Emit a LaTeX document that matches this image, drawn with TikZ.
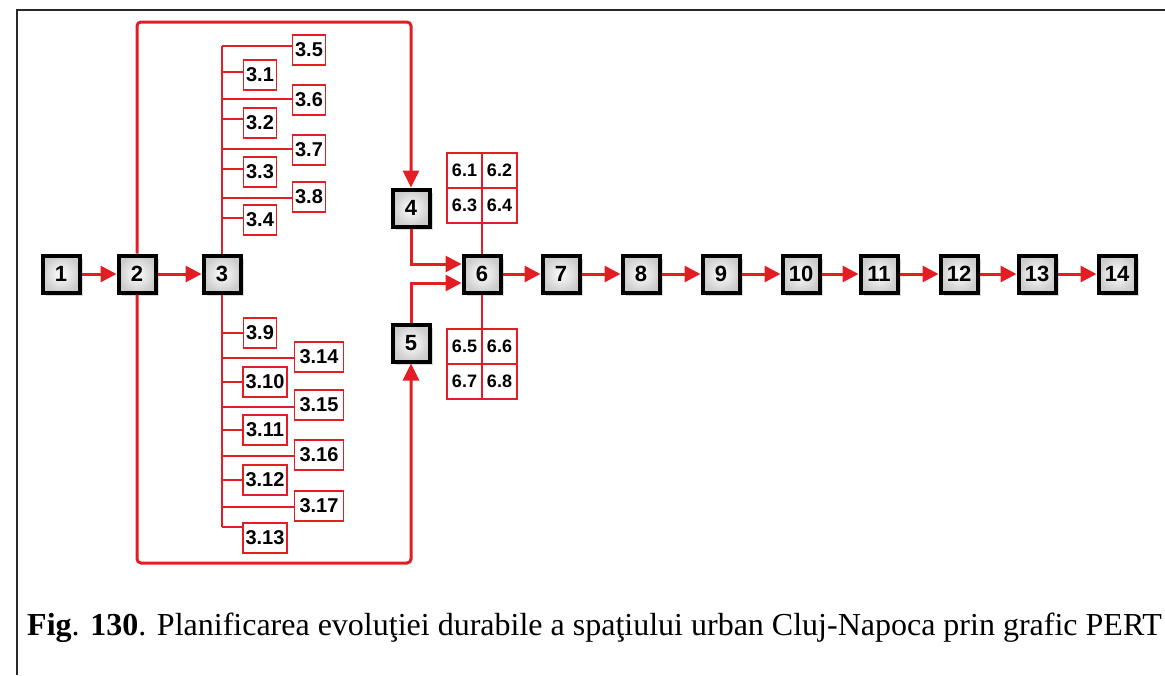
\documentclass[tikz,border=0pt]{standalone}
\usepackage{fontspec}
\setmainfont{Liberation Serif}
\newfontfamily\numfont{Liberation Sans}
\usetikzlibrary{arrows.meta,shadows}
\definecolor{pertred}{RGB}{226,30,36}
\definecolor{framegray}{RGB}{40,40,40}
\begin{document}
\begin{tikzpicture}[x=1pt,y=-1pt,
  mainbox/.style={draw=black, line width=4pt, minimum size=37pt, inner sep=0pt,
    shading=radial, inner color=white, outer color=gray!40,
    drop shadow={shadow xshift=3.5pt, shadow yshift=-3.5pt, opacity=0.3},
    font=\numfont\bfseries\fontsize{22}{22}\selectfont},
  subbox/.style={draw=pertred, line width=1.8pt, fill=white, minimum height=30pt, inner sep=0pt,
    font=\numfont\bfseries\fontsize{20}{20}\selectfont},
  cell/.style={draw=pertred, line width=1.8pt, fill=white, minimum size=35pt, inner sep=0pt, outer sep=0pt,
    font=\numfont\bfseries\fontsize{18}{18}\selectfont},
  arr/.style={draw=pertred, line width=3pt, -{Triangle[length=16pt,width=16pt]}},
  loop/.style={draw=pertred, line width=3pt, rounded corners=4pt, -{Triangle[length=17pt,width=16pt]}},
  branch/.style={draw=pertred, line width=1.8pt}
]
\useasboundingbox (0,0) rectangle (1165,675);
% frame
\draw[framegray, line width=2pt] (1165,10) -- (17,10) -- (17,675);

% main nodes
\foreach \n/\x in {1/61,2/137,3/222,6/482,7/561,8/641,9/721,10/801,11/879,12/959,13/1037,14/1117}
  \node[mainbox] (n\n) at (\x,274) {\n};
\node[mainbox] (n4) at (411,208) {4};
\node[mainbox] (n5) at (411,343) {5};

% chain arrows
\foreach \a/\b in {1/2,2/3,6/7,7/8,8/9,9/10,10/11,11/12,12/13,13/14}
  \draw[arr] (n\a.east) -- (n\b.west);

% loops from node 2
\coordinate (topy) at (0,22);
\coordinate (boty) at (0,563);
\draw[loop] (n2.north) -- (n2.north |- topy) -| (n4.north);
\draw[loop] (n2.south) -- (n2.south |- boty) -| (n5.south);

% into node 6
\draw[arr] (n4.south) |- ([yshift=10pt]n6.west);
\draw[arr] (n5.north) |- ([yshift=-9pt]n6.west);

% spine of node 3
\coordinate (spt) at (222,46);
\coordinate (spb) at (222,527);
\draw[branch] (spt) -- (n3.north);
\draw[branch] (n3.south) -- (spb);

% sub-activities of 3
\foreach \k/\t/\cx/\cy/\ly/\w in {
  a/3.5/309/50/46/33, b/3.1/260/75/72/33, c/3.6/309/100/99/33, d/3.2/260/123/119/33,
  e/3.7/309/150/149/33, f/3.3/260/172/169/33, g/3.8/309/197/198/33, h/3.4/260/220/218/33,
  i/3.9/260/333/333/33, j/3.14/319/357/358/49, k/3.10/265/382/382/44, l/3.15/319/405/407/49,
  m/3.11/265/430/430/44, o/3.16/319/455/456/49, p/3.12/265/480/480/44, q/3.17/319/506/507/49,
  r/3.13/265/538/527/44}{
  \node[subbox, minimum width=\w pt] (s\k) at (\cx,\cy) {\t};
  \coordinate (j\k) at (222,\ly);
  \draw[branch] (j\k) -- (j\k -| s\k.west);
}

% grids of node 6
\node[cell] (c61) at (464.5,170.5) {6.1};
\node[cell] (c62) at (499.5,170.5) {6.2};
\node[cell] (c63) at (464.5,205.5) {6.3};
\node[cell] (c64) at (499.5,205.5) {6.4};
\node[cell] (c65) at (464.5,346.5) {6.5};
\node[cell] (c66) at (499.5,346.5) {6.6};
\node[cell] (c67) at (464.5,381.5) {6.7};
\node[cell] (c68) at (499.5,381.5) {6.8};
\draw[branch] (c63.south east) -- (n6.north);
\draw[branch] (n6.south) -- (c65.north east);

% caption
\node[anchor=base west, inner sep=0pt, font=\fontsize{32}{32}\selectfont] (cap) at (27,635)
  {\textbf{Fig}. \textbf{130}. Planificarea evoluţiei durabile a spaţiului urban Cluj-Napoca prin grafic PERT};
\end{tikzpicture}
\end{document}
